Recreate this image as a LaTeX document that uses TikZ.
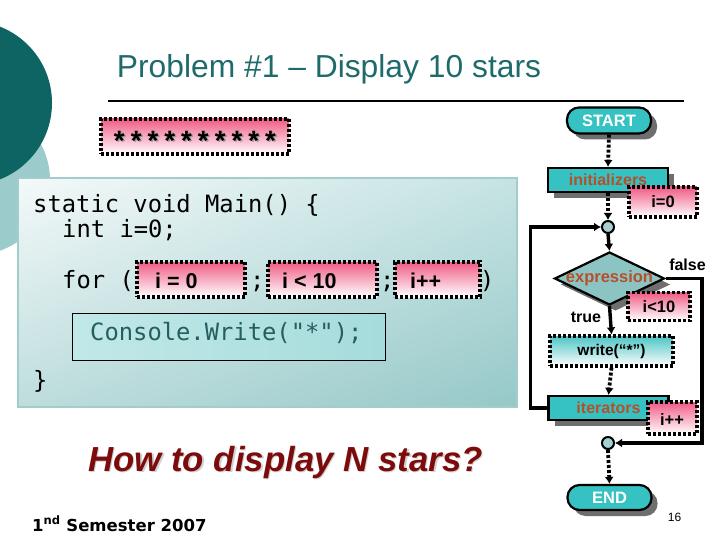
\documentclass[tikz,border=0pt]{standalone}
\usepackage{fontspec}
\setmainfont{Liberation Sans}
\setmonofont{DejaVu Sans Mono}
\newfontfamily\verdfont{DejaVu Sans}
\newfontfamily\courfont{Liberation Mono}
\usetikzlibrary{arrows.meta,shapes.geometric,shadows,shadings}
\definecolor{decdark}{HTML}{0D6462}
\definecolor{declight}{HTML}{9CCBCB}
\definecolor{titlec}{HTML}{1F6B6B}
\definecolor{pinkc}{HTML}{F05C86}
\definecolor{tealc}{HTML}{36C2C2}
\definecolor{diamc}{HTML}{8CC4C4}
\definecolor{brownc}{HTML}{B5502A}
\definecolor{circc}{HTML}{A4D0D0}
\definecolor{shadowc}{HTML}{6E6E6E}
\definecolor{darkred}{HTML}{7D0B0B}
\definecolor{codeborder}{HTML}{A3CDCD}
\definecolor{consc}{HTML}{A6DCDC}
\definecolor{consl}{HTML}{C2E8E8}
\definecolor{constext}{HTML}{245E5E}
\definecolor{cbul}{HTML}{F4F9F9}
\definecolor{cbur}{HTML}{C6E3E3}
\definecolor{cbll}{HTML}{BEDDDD}
\definecolor{cblr}{HTML}{96C8C8}
\definecolor{writetop}{HTML}{4CC4C4}
\tikzset{
  pinkbox/.style={draw=black, line width=3.2pt, dash pattern=on 3pt off 2pt,
    top color=pinkc, bottom color=white, inner sep=0pt},
  boxtext/.style={font=\bfseries\fontsize{16.5}{18}\selectfont, text=black, inner sep=0pt},
  codetext/.style={font=\ttfamily\fontsize{23.8}{26}\selectfont, anchor=base west, inner sep=0pt},
  shad/.style={drop shadow={shadow xshift=6pt, shadow yshift=-6pt, fill=shadowc, opacity=1}},
  pill/.style={draw=black, line width=2.2pt, fill=tealc, rounded corners=12pt, inner sep=0pt,
    font=\bfseries\fontsize{16.5}{18}\selectfont, text=white, shad},
  procbox/.style={draw=black, line width=2.2pt, fill=tealc, inner sep=0pt,
    font=\bfseries\fontsize{16}{18}\selectfont, text=brownc, shad},
  junction/.style={circle, draw=black, line width=2pt, fill=circc, minimum size=12pt, inner sep=0pt},
  dotarrow/.style={line width=3.8pt, dash pattern=on 3pt off 2pt, -{Latex[length=7pt,width=9pt]}},
  solarrow/.style={line width=3.4pt, -{Latex[length=7pt,width=9pt]}},
  flowlabel/.style={font=\bfseries\fontsize{16}{18}\selectfont, inner sep=0pt}
}
\begin{document}
\begin{tikzpicture}[x=1pt,y=-1pt]
\useasboundingbox (0,0) rectangle (720,540);
\fill[white] (0,0) rectangle (720,540);
% background decoration
\begin{scope}
\clip (0,0) rectangle (720,540);
\fill[declight] (-25,180) circle (75);
\fill[decdark] (-30,103) circle (82);
\end{scope}
% title
\node[font=\fontsize{31.8}{36}\selectfont, text=titlec, inner sep=0pt] (title) at (329,69) {Problem \#1 – Display 10 stars};
\draw[line width=2pt] (108,101) -- (684,101);
% stars box
\node[pinkbox, minimum width=188pt, minimum height=35pt] (stars) at (195,136.5) {};
\node[font=\courfont\bfseries\fontsize{28}{28}\selectfont, text=black!40, anchor=base, inner sep=0pt] at (196.5,153) {**********};
\node[font=\courfont\bfseries\fontsize{28}{28}\selectfont, anchor=base, inner sep=0pt] (starstext) at (195,151.5) {**********};
% code box
\node[draw=codeborder, line width=1.5pt, minimum width=499pt, minimum height=229pt, inner sep=0pt,
  upper left=cbul, upper right=cbur, lower left=cbll, lower right=cblr] (codebox) at (267.5,292.5) {};
\node[codetext] (code1) at (33,212) {static void Main() \{};
\node[codetext] (code2) at (62,237) {int i=0;};
\node[codetext] (forkw) at (62,288) {for (};
\node[codetext] (semi1) at (250,288) {;};
\node[codetext] (semi2) at (380,288) {;};
\node[codetext] (paren) at (480,288) {)};
\node[pinkbox, minimum width=108pt, minimum height=35pt] (fb1) at (191,279.5) {};
\node[pinkbox, minimum width=109pt, minimum height=35pt] (fb2) at (322.5,279.5) {};
\node[pinkbox, minimum width=85pt, minimum height=35pt] (fb3) at (437.5,279.5) {};
\node[boxtext, font=\bfseries\fontsize{21.5}{24}\selectfont, anchor=west] (fb1t) at (155,281) {i = 0};
\node[boxtext, font=\bfseries\fontsize{21.5}{24}\selectfont, anchor=west] (fb2t) at (282,281) {i < 10};
\node[boxtext, font=\bfseries\fontsize{21.5}{24}\selectfont, anchor=west] (fb3t) at (410,281) {i++};
\node[draw=black, line width=0.8pt, minimum width=313pt, minimum height=47pt, inner sep=0pt,
  left color=consl, right color=consc] (console) at (228.5,336.5) {};
\node[codetext, text=constext] (constext) at (90,340) {Console.Write("*");};
\node[codetext] (code3) at (33,388) {\}};
% question
\node[font=\bfseries\itshape\fontsize{34.8}{40}\selectfont, text=black!18, inner sep=0pt] at (287,463.5) {How to display N stars?};
\node[font=\bfseries\itshape\fontsize{34.8}{40}\selectfont, text=darkred, inner sep=0pt] (question) at (285.5,462) {How to display N stars?};
% footer
\node[font=\verdfont\bfseries\fontsize{16.5}{18}\selectfont, anchor=base west, inner sep=0pt] (footer) at (32,531) {1\textsuperscript{nd} Semester 2007};
\node[font=\fontsize{12}{14}\selectfont, inner sep=0pt] (pagenum) at (674.5,517) {16};
% flowchart
\node[pill, minimum width=84pt, minimum height=26pt] (start) at (609,120.5) {START};
\node[procbox, minimum width=120pt, minimum height=24pt] (init) at (608,180) {initializers};
\node[junction] (c1) at (608,227) {};
\node[diamond, aspect=2, draw=black, line width=2.2pt, fill=diamc, minimum width=110pt, minimum height=53pt, inner sep=0pt, shad,
  label={[font=\bfseries\fontsize{16.5}{18}\selectfont, text=brownc, inner sep=0pt]center:expression}] (cond) at (609.5,278.5) {};
\node[pinkbox, minimum width=68pt, minimum height=30pt] (i0) at (663,202) {};
\node[boxtext] at (i0) {i=0};
\node[pinkbox, minimum width=62pt, minimum height=28pt] (icond) at (659,306.5) {};
\node[boxtext] at (icond) {i<10};
\node[draw=black, line width=3.2pt, dash pattern=on 3pt off 2pt, top color=writetop, bottom color=white,
  minimum width=123pt, minimum height=30pt, inner sep=0pt, font=\bfseries\fontsize{15.5}{18}\selectfont] (write) at (611.5,351) {write(“*”)};
\node[procbox, minimum width=120pt, minimum height=24pt] (iter) at (608.5,408) {iterators};
\node[pinkbox, minimum width=49pt, minimum height=32pt] (iinc) at (672.5,418) {};
\node[boxtext] at (672,420) {i++};
\node[junction] (c2) at (608,443) {};
\node[pill, minimum width=84pt, minimum height=25pt] (end) at (609.5,497.5) {END};
\node[flowlabel] (falselab) at (687.5,265) {false};
\node[flowlabel] (truelab) at (586,317) {true};
% connectors
\draw[dotarrow] (start.south) -- (init.north);
\draw[dotarrow] (init.south) -- (c1.north);
\draw[solarrow] (c1.south) -- (cond.north);
\draw[solarrow] (cond.south) -- (write.north);
\draw[dotarrow] (write.south) -- (iter.north);
\draw[dotarrow] (c2.south) -- (end.north);
\draw[solarrow, line width=3.2pt] (iter.west) -- ++(-17,0) |- (c1.west);
\draw[solarrow, line width=3.2pt] (cond.east) -- (702,278.5) |- (c2.east);
\end{tikzpicture}
\end{document}
